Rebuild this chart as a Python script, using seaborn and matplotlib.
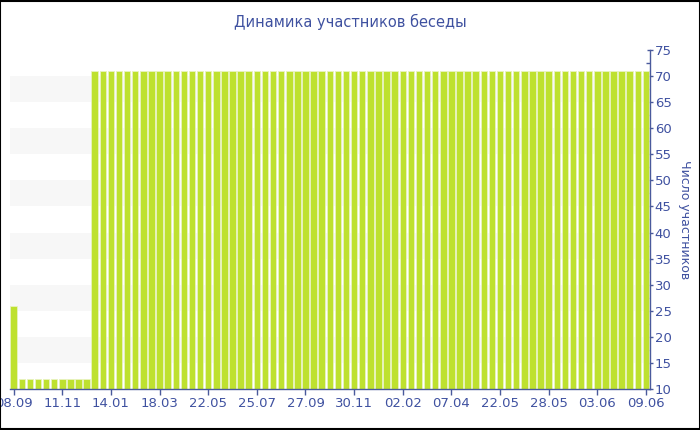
import matplotlib
matplotlib.use("Agg")
import matplotlib.pyplot as plt
import numpy as np
import pandas as pd
import seaborn as sns

# daily member counts, one bar per day
counts = [
    26, 12, 12, 12, 12, 12, 12, 12, 12, 12,
    71, 71, 71, 71, 71, 71, 71, 71, 71, 71,
    71, 71, 71, 71, 71, 71, 71, 71, 71, 71,
    71, 71, 71, 71, 71, 71, 71, 71, 71, 71,
    71, 71, 71, 71, 71, 71, 71, 71, 71, 71,
    71, 71, 71, 71, 71, 71, 71, 71, 71, 71,
    71, 71, 71, 71, 71, 71, 71, 71, 71, 71,
    71, 71, 71, 71, 71, 71, 71, 71, 71,
]
tick_labels = ["08.09", "11.11", "14.01", "18.03", "22.05", "25.07", "27.09",
               "30.11", "02.02", "07.04", "22.05", "28.05", "03.06", "09.06"]
tick_step = 6

title = "Динамика участников беседы"
ylabel = "Число участников"

text_color = "#3f51a0"
axis_color = "#4a5a9c"
bar_color = "#bee12f"

sns.set_theme(style="white")
plt.rcParams["font.family"] = ["DejaVu Sans"]

df = pd.DataFrame({"day": np.arange(len(counts)), "count": counts})

fig = plt.figure(figsize=(7, 4.3), dpi=100)
ax = fig.add_axes([10 / 700, 41 / 430, 640 / 700, 339 / 430])

# alternating light bands
for lo in range(15, 75, 10):
    ax.axhspan(lo, lo + 5, color="#f7f7f7", zorder=0, lw=0)

sns.barplot(data=df, x="day", y="count", color=bar_color, saturation=1,
            width=0.8, edgecolor="#e8f3c0", linewidth=0.6, ax=ax, zorder=2)

ax.set_xlim(-0.45, len(counts) - 0.5)
ax.set_ylim(10, 75)

ax.set_xticks(np.arange(0, len(counts), tick_step))
ax.set_xticklabels(tick_labels)
ax.set_xlabel("")

ax.yaxis.tick_right()
ax.yaxis.set_label_position("right")
ax.set_yticks(np.arange(10, 76, 5))
ax.set_yticks(np.arange(12.5, 75, 5), minor=True)
ax.set_ylabel(ylabel, rotation=270, labelpad=14, color=text_color, fontsize=9)

ax.tick_params(axis="x", colors=axis_color, labelcolor=text_color,
               labelsize=9.5, length=4, width=1, direction="out", pad=2, bottom=True)
ax.tick_params(axis="y", which="major", colors=axis_color, labelcolor=text_color,
               labelsize=9.5, length=5, width=1, direction="inout", pad=1, right=True)
ax.tick_params(axis="y", which="minor", colors=axis_color, length=3, width=1,
               direction="in", right=True)

for side in ["top", "left"]:
    ax.spines[side].set_visible(False)
for side in ["bottom", "right"]:
    ax.spines[side].set_color(axis_color)
    ax.spines[side].set_linewidth(1)

fig.text(0.5, 1 - 22 / 430, title, ha="center", va="center",
         color=text_color, fontsize=10.5)

# thin black frame around the whole picture
fig.patches.append(plt.Rectangle((0.0007, 0.0012), 0.9986, 0.9976, transform=fig.transFigure,
                                 fill=False, edgecolor="black", linewidth=1.5))

fig.savefig("out.png", dpi=100)
